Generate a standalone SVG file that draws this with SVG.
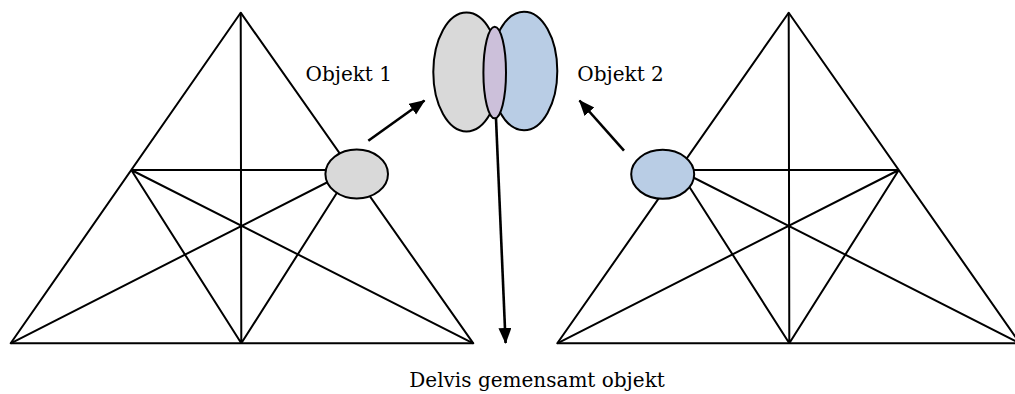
<svg xmlns="http://www.w3.org/2000/svg" width="1015" height="394" viewBox="0 0 1015 394">
<style>
.ln{stroke:#000;stroke-width:2;fill:none;stroke-linejoin:round}
.ar{stroke:#000;stroke-width:2.6;fill:none}
.el{stroke:#000;stroke-width:2}
.t{font-family:"DejaVu Serif","Liberation Serif",serif;font-size:20px;fill:#000}
</style>
<defs>
<marker id="ah" markerUnits="userSpaceOnUse" markerWidth="18" markerHeight="14" refX="15" refY="6.5" orient="auto" viewBox="0 0 18 14">
<path d="M0,0 L16,6.5 L0,13 z" fill="#000"/>
</marker>
</defs>
<rect width="1015" height="394" fill="#fff"/>
<g id="triangle-left">
<path class="ln" d="M240.7,12.7 L10.7,343.3 L473.3,343.3 Z"/>
<path class="ln" d="M240.7,12.7 L241.3,343.3 M131.3,170 L351.4,170 M131.3,170 L473.3,343.3 M131.3,170 L241.3,343.3 M351.4,170 L10.7,343.3 M351.4,170 L241.3,343.3"/>
<ellipse id="obj1-small" class="el" cx="356.7" cy="174" rx="31.3" ry="24.5" fill="#d9d9d9"/>
</g>
<g id="triangle-right">
<path class="ln" d="M788.7,12.7 L557.3,343.3 L1020,343.3 Z"/>
<path class="ln" d="M788.7,12.7 L789.3,343.3 M678.6,170 L898.8,170 M678.6,170 L1020,343.3 M678.6,170 L789.3,343.3 M898.8,170 L557.3,343.3 M898.8,170 L789.3,343.3"/>
<ellipse id="obj2-small" class="el" cx="662.7" cy="174.3" rx="31.5" ry="24.5" fill="#b9cde5"/>
</g>
<g id="overlap">
<ellipse class="el" cx="466.5" cy="72" rx="33.2" ry="59.5" fill="#d9d9d9"/>
<ellipse class="el" cx="524" cy="71" rx="33.3" ry="59.3" fill="#b9cde5"/>
<ellipse class="el" cx="494.7" cy="72.5" rx="11.3" ry="45.8" fill="#ccc0da"/>
</g>
<g id="connectors">
<line class="ar" x1="368.3" y1="140.7" x2="424.5" y2="100.5" marker-end="url(#ah)"/>
<line class="ar" x1="624" y1="150.7" x2="579.5" y2="100.5" marker-end="url(#ah)"/>
<line class="ar" x1="496" y1="118.5" x2="505.6" y2="343" marker-end="url(#ah)"/>
</g>
<g id="labels">
<text class="t" x="305.5" y="80.7">Objekt 1</text>
<text class="t" x="577.3" y="81">Objekt 2</text>
<text class="t" x="409.3" y="387">Delvis gemensamt objekt</text>
</g>
</svg>
